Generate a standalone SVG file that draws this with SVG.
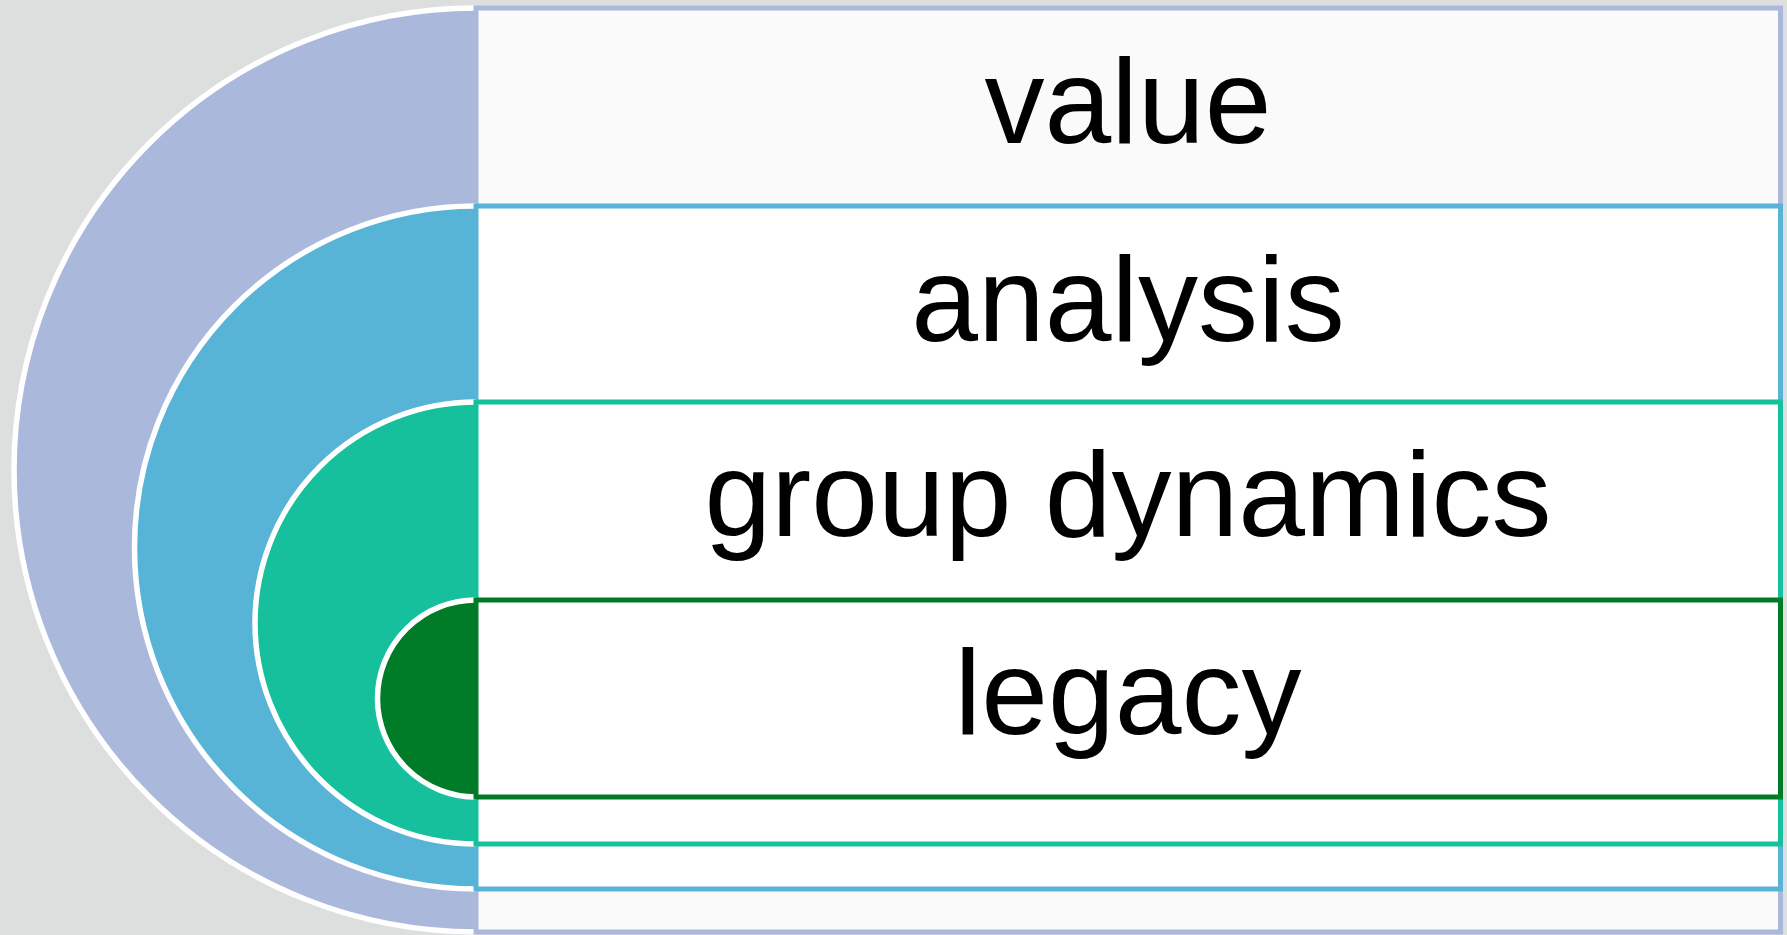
<svg xmlns="http://www.w3.org/2000/svg" width="1787" height="935" viewBox="0 0 1787 935">
<style>
.arc{stroke:#FFFFFF;stroke-width:5.5;}
.box{stroke-width:5;}
.lbl{font-family:"Liberation Sans",Arial,sans-serif;font-size:120px;fill:#000000;text-anchor:middle;}
</style>
<rect x="0" y="0" width="1787" height="935" fill="#DCDFDE"/>
<g id="node-value">
<path class="arc" d="M476,8 A462,462 0 0 0 476,932" fill="#AAB8DB"/>
<rect class="box" x="476" y="8" width="1304.5" height="924" fill="#FAFAFA" stroke="#AAB8DB"/>
<text class="lbl" x="1128" y="143">value</text>
</g>
<g id="node-analysis">
<path class="arc" d="M476,206 A341.5,341.5 0 0 0 476,889" fill="#58B4D6"/>
<rect class="box" x="476" y="206" width="1304.5" height="683" fill="#FFFFFF" stroke="#58B4D6"/>
<text class="lbl" x="1128" y="341">analysis</text>
</g>
<g id="node-group-dynamics">
<path class="arc" d="M476,402 A221,221 0 0 0 476,844" fill="#16C09C"/>
<rect class="box" x="476" y="402" width="1304.5" height="442" fill="#FFFFFF" stroke="#16C09C"/>
<text class="lbl" x="1128" y="536">group dynamics</text>
</g>
<g id="node-legacy">
<path class="arc" d="M476,600 A98.5,98.5 0 0 0 476,797" fill="#007B28"/>
<rect class="box" x="476" y="600" width="1304.5" height="197" fill="#FFFFFF" stroke="#007B28"/>
<text class="lbl" x="1128" y="734">legacy</text>
</g>
<g id="connectors"></g>
</svg>
